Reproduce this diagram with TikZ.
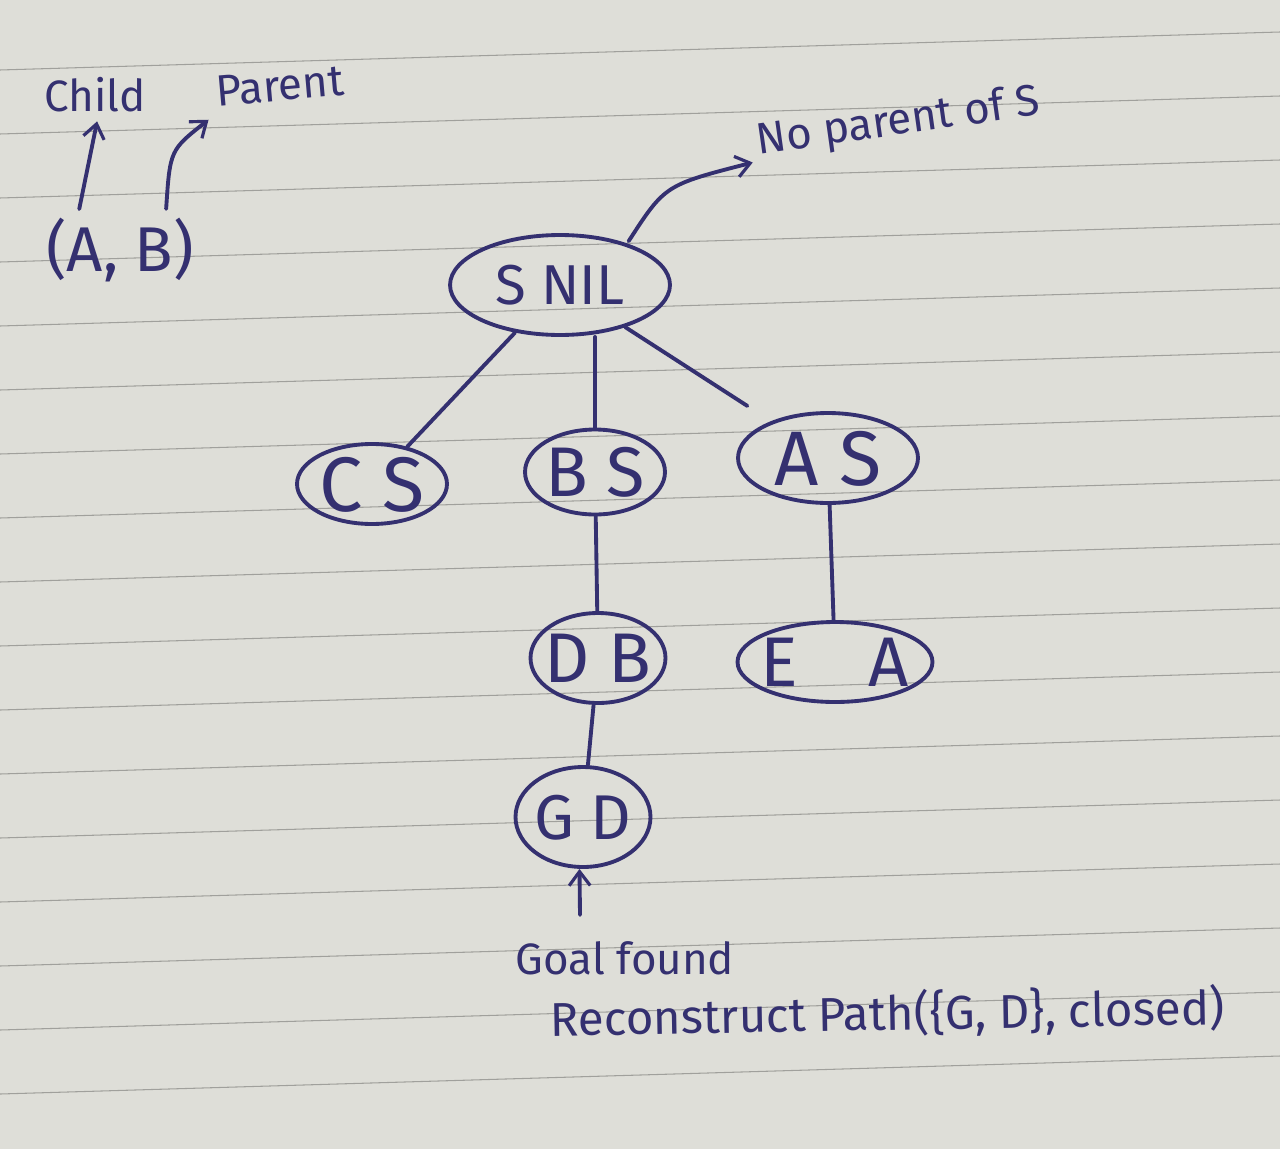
\documentclass[tikz,border=0pt]{standalone}
\usepackage{fontspec}
\setmainfont{Fira Sans}
\usetikzlibrary{shapes.geometric,arrows.meta}
\definecolor{paper}{RGB}{222,222,216}
\definecolor{rulecol}{RGB}{160,160,156}
\definecolor{ink}{RGB}{52,48,112}
\newcommand\inkt[1]{\makebox[0pt]{\raisebox{-.35em}[0pt][0pt]{#1}}}
\begin{document}
\begin{tikzpicture}[x=0.02cm,y=-0.02cm,
  bubble/.style={draw=ink,ellipse,line width=2.2pt,inner sep=0pt,text=ink,font=\fontsize{40}{40}\selectfont},
  inkline/.style={draw=ink,line width=2.2pt,line cap=round},
  tipped/.style={-{Straight Barb[length=8pt,width=12pt,line width=1.8pt]}},
  note/.style={text=ink,inner sep=1pt,font=\fontsize{25}{27}\selectfont}]
\useasboundingbox (0,0) rectangle (1280,1149);
\fill[paper] (0,0) rectangle (1280,1149);
\foreach \k in {0,...,16} \draw[rulecol,line width=0.6pt] (0,70+64*\k) -- (1280,70+64*\k-38);

% legend
\node[note] (child) at (95,95) {Child};
\node[note,rotate=5] (parent) at (280,86) {Parent};
\node[note,font=\fontsize{36}{36}\selectfont] (ab) at (120,250) {(A, B)};
\draw[inkline,tipped,shorten <=4pt,shorten >=4pt] ([xshift=-24pt]ab.north) -- ([xshift=2pt]child.south);
\draw[inkline,tipped,shorten <=4pt] ([xshift=26pt]ab.north) .. controls (170,150) .. ([xshift=-4pt,yshift=-6pt]parent.south west);

% tree nodes
\node[bubble,minimum width=4.4cm,minimum height=2.0cm,font=\fontsize{32}{32}\selectfont] (snil) at (560,285) {\inkt{S NIL}};
\node[bubble,minimum width=3.0cm,minimum height=1.6cm,font=\fontsize{44}{44}\selectfont] (cs) at (372,484) {\inkt{C S}};
\node[bubble,minimum width=2.8cm,minimum height=1.7cm] (bs) at (595,472) {\inkt{B S}};
\node[bubble,minimum width=3.6cm,minimum height=1.8cm,font=\fontsize{44}{44}\selectfont] (as) at (828,458) {\inkt{A S}};
\node[bubble,minimum width=2.7cm,minimum height=1.8cm] (db) at (598,658) {\inkt{D B}};
\node[bubble,minimum width=3.9cm,minimum height=1.6cm] (ea) at (835,662) {\inkt{E\quad A}};
\node[bubble,minimum width=2.7cm,minimum height=2.0cm,font=\fontsize{36}{36}\selectfont] (gd) at (583,817) {\inkt{G D}};

% connectors
\draw[inkline] (snil) -- (cs);
\draw[inkline] (bs.north) -- (bs.north |- snil.south);
\draw[inkline,shorten >=16pt] (snil) -- (as);
\draw[inkline] (bs) -- (db);
\draw[inkline] (as) -- (ea);
\draw[inkline] (db) -- (gd);

% no parent note
\node[note,rotate=8,anchor=south west] (nopar) at (758,166) {No parent of S};
\draw[inkline,tipped] ([xshift=-6pt,yshift=4pt]snil.north east) .. controls (665,185) .. ([xshift=-3pt,yshift=2pt]nopar.south west);

% goal
\coordinate (goalarr) at (580,915);
\draw[inkline,tipped] (goalarr) -- ([xshift=-2pt]gd.south);
\node[note] (goal) at (625,958) {Goal found};
\node[note,rotate=1,anchor=west,font=\fontsize{27}{29}\selectfont] (recon) at (548,1020) {Reconstruct Path(\{G, D\}, closed)};
\end{tikzpicture}
\end{document}
